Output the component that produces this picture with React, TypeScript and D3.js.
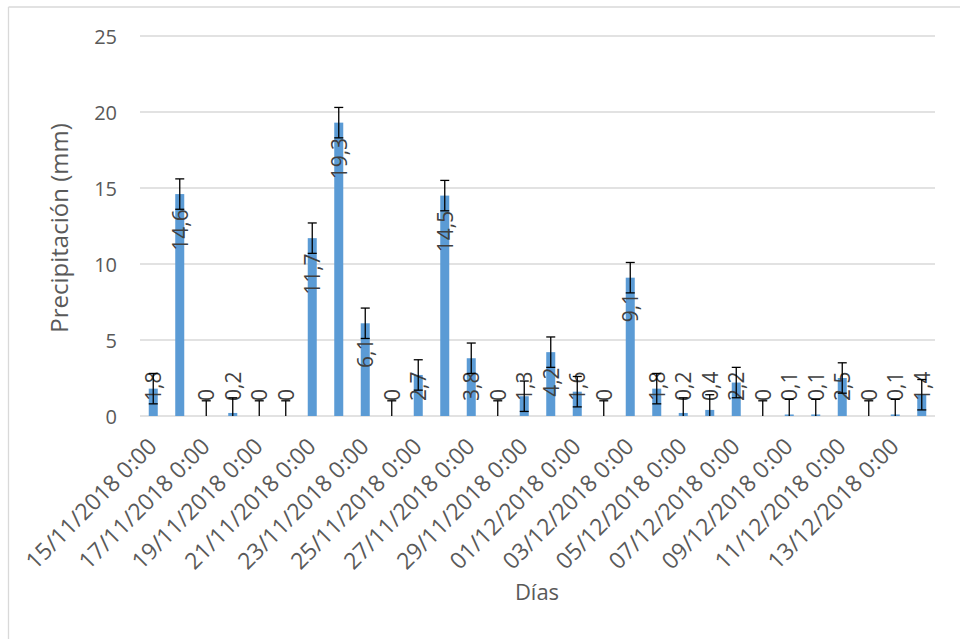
import React from "react";
import * as d3 from "d3";

const dates = [
  "15/11/2018 0:00", "16/11/2018 0:00", "17/11/2018 0:00", "18/11/2018 0:00", "19/11/2018 0:00",
  "20/11/2018 0:00", "21/11/2018 0:00", "22/11/2018 0:00", "23/11/2018 0:00", "24/11/2018 0:00",
  "25/11/2018 0:00", "26/11/2018 0:00", "27/11/2018 0:00", "28/11/2018 0:00", "29/11/2018 0:00",
  "30/11/2018 0:00", "01/12/2018 0:00", "02/12/2018 0:00", "03/12/2018 0:00", "04/12/2018 0:00",
  "05/12/2018 0:00", "06/12/2018 0:00", "07/12/2018 0:00", "08/12/2018 0:00", "09/12/2018 0:00",
  "10/12/2018 0:00", "11/12/2018 0:00", "12/12/2018 0:00", "13/12/2018 0:00", "14/12/2018 0:00",
];
const precip = [
  1.8, 14.6, 0, 0.2, 0, 0, 11.7, 19.3, 6.1, 0,
  2.7, 14.5, 3.8, 0, 1.3, 4.2, 1.6, 0, 9.1, 1.8,
  0.2, 0.4, 2.2, 0, 0.1, 0.1, 2.5, 0, 0.1, 1.4,
];
const errorAmount = 1;
const yTicks = [0, 5, 10, 15, 20, 25];
const yTitle = "Precipitación (mm)";
const xTitle = "Días";

const FONT = "'Open Sans', 'DejaVu Sans', sans-serif";
const W = 960;
const H = 639;
const plot = { left: 140, right: 935, top: 36, bottom: 416 };

const fmt = (v: number) => String(v).replace(".", ",");
const textLen = (s: string, fs: number) =>
  s.split("").reduce((a, c) => a + (c === "," ? 0.27 : 0.572) * fs, 0);

export default function App() {
  const x = d3
    .scaleBand<string>()
    .domain(dates)
    .range([plot.left, plot.right])
    .paddingInner(0.66)
    .paddingOuter(0.33);
  const y = d3.scaleLinear().domain([0, 25]).range([plot.bottom, plot.top]);
  const bw = x.bandwidth();
  const valFs = 21;
  const capHalf = 4.5;

  return (
    <svg
      width={W}
      height={H}
      style={{ position: "absolute", left: 0, top: 0, background: "#fff" }}
      fontFamily={FONT}
    >
      <rect x={0} y={0} width={W} height={H} fill="#fff" />
      {/* outer border */}
      <line x1={8.5} y1={7} x2={W} y2={7} stroke="#D9D9D9" strokeWidth={1.3} />
      <line x1={8.5} y1={7} x2={8.5} y2={H} stroke="#D9D9D9" strokeWidth={1.3} />

      {/* gridlines */}
      {yTicks.map((t) => (
        <line
          key={t}
          x1={plot.left}
          x2={plot.right}
          y1={y(t)}
          y2={y(t)}
          stroke="#D9D9D9"
          strokeWidth={1.3}
        />
      ))}
      {/* y tick labels */}
      {yTicks.map((t) => (
        <text
          key={"l" + t}
          x={117}
          y={y(t)}
          textAnchor="end"
          dominantBaseline="central"
          fontSize={20}
          fill="#595959"
        >
          {t}
        </text>
      ))}

      {/* bars */}
      {precip.map((v, i) => (
        <rect
          key={"b" + i}
          x={x(dates[i])!}
          y={y(v)}
          width={bw}
          height={y(0) - y(v)}
          fill="#5B9BD5"
        />
      ))}

      {/* value labels */}
      {precip.map((v, i) => {
        const s = fmt(v);
        const len = textLen(s, valFs);
        const cx = x(dates[i])! + bw / 2;
        const bottom = Math.min(y(v) + 15 + len, 401);
        return (
          <text
            key={"v" + i}
            transform={`translate(${cx},${bottom}) rotate(-90)`}
            textAnchor="start"
            dominantBaseline="central"
            fontSize={valFs}
            fill="#404040"
          >
            {s}
          </text>
        );
      })}

      {/* error bars */}
      {precip.map((v, i) => {
        const cx = x(dates[i])! + bw / 2;
        const hi = v + errorAmount;
        const lo = v - errorAmount;
        return (
          <g key={"e" + i} stroke="#000" strokeWidth={1.3}>
            <line x1={cx} x2={cx} y1={y(hi)} y2={y(Math.max(lo, 0))} />
            <line x1={cx - capHalf} x2={cx + capHalf} y1={y(hi)} y2={y(hi)} />
            {lo >= 0 && (
              <line x1={cx - capHalf} x2={cx + capHalf} y1={y(lo)} y2={y(lo)} />
            )}
          </g>
        );
      })}

      {/* x tick labels */}
      {dates.map((d, i) =>
        i % 2 === 0 ? (
          <text
            key={"x" + i}
            transform={`translate(${x(d)! + bw / 2 + 5},${448}) rotate(-45)`}
            textAnchor="end"
            fontSize={23}
            fill="#595959"
          >
            {d}
          </text>
        ) : null
      )}

      {/* axis titles */}
      <text
        transform={`translate(58,228) rotate(-90)`}
        textAnchor="middle"
        dominantBaseline="central"
        fontSize={24}
        fill="#595959"
      >
        {yTitle}
      </text>
      <text x={537} y={600} textAnchor="middle" fontSize={22} fill="#595959">
        {xTitle}
      </text>
    </svg>
  );
}
